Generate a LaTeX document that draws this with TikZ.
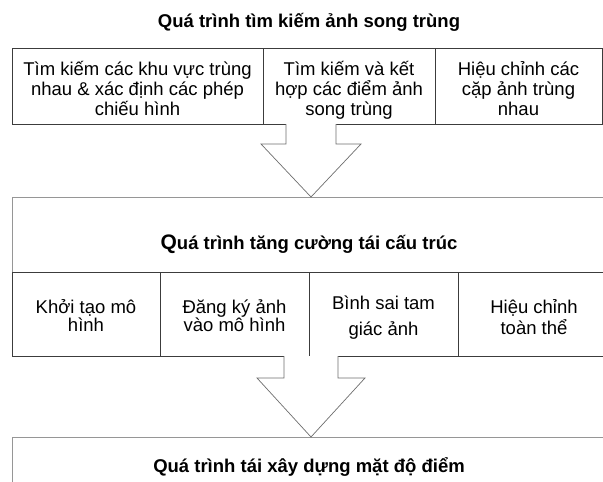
\documentclass[tikz,border=0pt]{standalone}
\usepackage{fontspec}
\setmainfont{Liberation Sans}
\usetikzlibrary{positioning}
\definecolor{linegray}{RGB}{60,60,60}
\definecolor{framegray}{RGB}{150,150,150}
\definecolor{arrowgray}{RGB}{110,110,110}

\begin{document}
\begin{tikzpicture}[x=1pt, y=-1pt, cell/.style={rectangle, draw=linegray, line width=0.9pt, outer sep=0pt, inner sep=0pt, minimum height=76pt, text height=58pt, text depth=0pt, align=center, font=\fontsize{18.5}{20}\selectfont}, row/.style={cell, minimum height=84pt, text height=34pt}, frame/.style={rectangle, draw=framegray, line width=0.8pt, outer sep=0pt, anchor=north west, minimum width=598pt}, title/.style={font=\bfseries\fontsize{18.5}{20}\selectfont}, hollow/.style={draw=arrowgray, line width=0.7pt, fill=white, line join=miter}]

\useasboundingbox (0,0) rectangle (603,482);

\node[title] (match) at (309,22) {Quá trình tìm kiếm ảnh song trùng};

\node[cell, anchor=north west, minimum width=251pt] (area) at (12,48) {Tìm kiếm các khu vực trùng\\nhau \& xác định các phép\\chiếu hình};

\node[cell, right=0pt of area, minimum width=172pt] (points) {Tìm kiếm và kết\\hợp các điểm ảnh\\song trùng};

\node[cell, right=0pt of points, minimum width=167pt] (pairs) {Hiệu chỉnh các\\cặp ảnh trùng\\nhau};

\node[frame, minimum height=75pt] (mid) at (12,197) {};

\node[title] (recon) at (309,244) {{\fontsize{21}{21}\selectfont Q}uá trình tăng cường tái cấu trúc};

\node[row, below right=0pt and 0pt of mid.south west, minimum width=148pt] (init) {Khởi tạo mô\\[-2pt]hình};

\node[row, right=0pt of init, minimum width=149pt] (reg) {Đăng ký ảnh\\[-2pt]vào mô hình};

\node[row, right=0pt of reg, minimum width=149pt, text height=42pt] (tri) {Bình sai tam\\[6pt]giác ảnh};

\node[row, right=0pt of tri, minimum width=152pt, text height=40pt] (adj) {Hiệu chỉnh\\[1pt]toàn thể};

\node[frame, minimum height=60pt] (low) at (12,437) {};

\node[title] (dense) at (309,467) {Quá trình tái xây dựng mặt độ điểm};

\draw[hollow] (points.south -| mid.north) ++(-25,0) -- ++(0,20) -- ++(-25,0) -- (mid.north) -- ++(50,-53) -- ++(-25,0) -- ++(0,-20);

\draw[hollow] (reg.south -| low.north) ++(-27,0) -- ++(0,22) -- ++(-27,0) -- (low.north) -- ++(54,-59) -- ++(-27,0) -- ++(0,-22);

\end{tikzpicture}
\end{document}
